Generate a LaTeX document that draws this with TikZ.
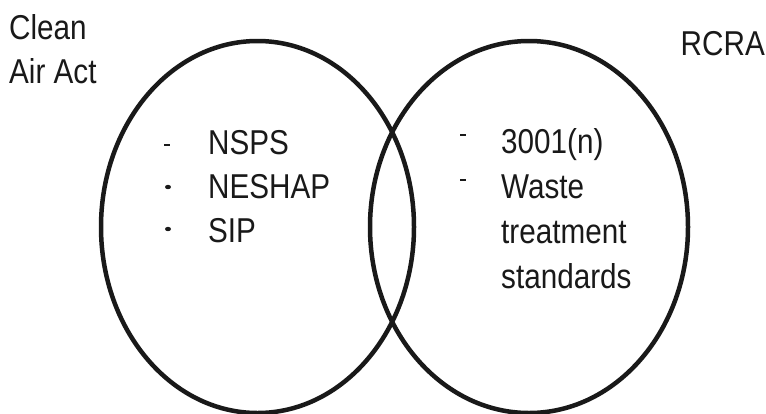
\documentclass[tikz,border=0pt]{standalone}
\usepackage{fontspec}
\setmainfont{Liberation Sans}[FakeStretch=0.86]
\begin{document}
\begin{tikzpicture}[x=1bp,y=-1bp,
  setring/.style={draw=black!90, line width=4.5bp},
  lbl/.style={inner sep=0pt, anchor=base west, font=\fontsize{34.5bp}{44bp}\selectfont, text=black!90}
]
\useasboundingbox (0,0) rectangle (766,413);
% sets
\draw[setring] (257.5,227) ellipse [x radius=156.5, y radius=186];
\draw[setring] (529,227) ellipse [x radius=159, y radius=186];
% titles
\node[lbl] (caa1) at (9,39) {Clean};
\node[lbl] (caa2) at (9,83) {Air Act};
\node[lbl, anchor=base east] (rcra) at (765,55) {RCRA};
% left items
\node[lbl] (nsps) at (208,154) {NSPS};
\node[lbl] (neshap) at (208,198) {NESHAP};
\node[lbl] (sip) at (208,242) {SIP};
\fill[black!90] (164,143.8) rectangle (170,146.3);
\fill[black!90] (168,187) ellipse [x radius=3, y radius=2.2];
\fill[black!90] (168,229) ellipse [x radius=3, y radius=2.2];
% right items
\node[lbl] (n3001) at (501,153) {3001(n)};
\node[lbl] (waste) at (501,198) {Waste};
\node[lbl] (treat) at (501,243) {treatment};
\node[lbl] (stand) at (501,288) {standards};
\fill[black!90] (460,133.8) rectangle (466,136.3);
\fill[black!90] (460,178.8) rectangle (466,181.3);
\end{tikzpicture}
\end{document}
